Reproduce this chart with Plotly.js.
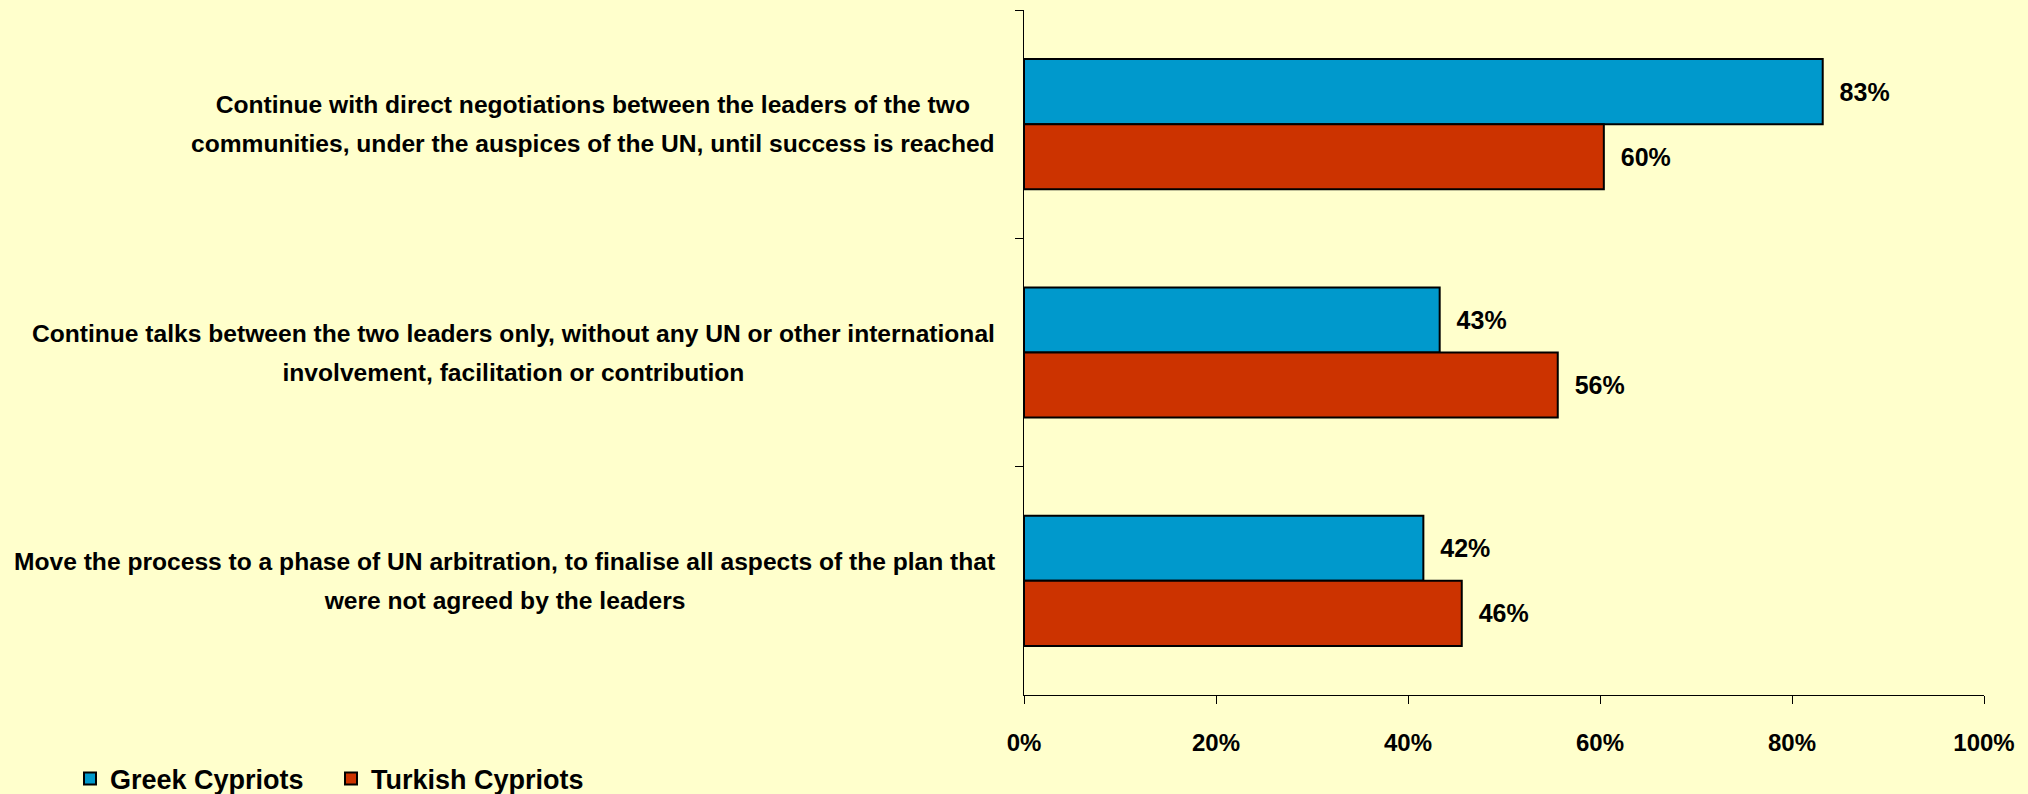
<!DOCTYPE html>
<html>
<head>
<meta charset="utf-8">
<script src="https://cdn.plot.ly/plotly-3.0.1.min.js"></script>
<style>
html,body{margin:0;padding:0;background:#FFFFCC;}
#chart{width:2028px;height:794px;}
</style>
</head>
<body>
<div id="chart"></div>
<script>
// ---- data ----
var categories = [
  "Continue with direct negotiations between the leaders of the two|communities, under the auspices of the UN, until success is reached",
  "Continue talks between the two leaders only, without any UN or other international|involvement, facilitation or contribution",
  "Move the process to a phase of UN arbitration, to finalise all aspects of the plan that|were not agreed by the leaders"
];
var catKeys = ["c1", "c2", "c3"];
var greekCypriots = [0.832, 0.433, 0.416];
var turkishCypriots = [0.604, 0.556, 0.456];
var seriesNames = ["Greek Cypriots", "Turkish Cypriots"];
var xTickVals = [0, 0.2, 0.4, 0.6, 0.8, 1.0];

var FONT = "'Liberation Sans Narrow', 'Liberation Sans', sans-serif";
var LABEL_SIZE = 26;
var MAX_LABEL_W = 985;

function measure(text, size) {
  var c = document.createElement('canvas').getContext('2d');
  c.font = 'bold ' + size + 'px ' + FONT;
  return c.measureText(text).width;
}

// fit the category labels into the space left of the axis
var widest = 0;
categories.forEach(function (cat) {
  cat.split('|').forEach(function (l) { widest = Math.max(widest, measure(l, LABEL_SIZE)); });
});
var catSize = Math.min(LABEL_SIZE, Math.floor(LABEL_SIZE * MAX_LABEL_W / widest * 10) / 10);

var barLine = {color: '#000000', width: 2};
var dataFont = {family: FONT, size: 25, color: '#000', weight: 'bold'};
var traces = [
  {
    type: 'bar', orientation: 'h', name: seriesNames[0],
    y: catKeys, x: greekCypriots,
    marker: {color: '#0099CC', line: barLine},
    texttemplate: '\u00a0\u00a0%{x:.0%}', textposition: 'outside',
    textfont: dataFont, cliponaxis: false, hoverinfo: 'x'
  },
  {
    type: 'bar', orientation: 'h', name: seriesNames[1],
    y: catKeys, x: turkishCypriots,
    marker: {color: '#CC3300', line: barLine},
    texttemplate: '\u00a0\u00a0%{x:.0%}', textposition: 'outside',
    textfont: dataFont, cliponaxis: false, hoverinfo: 'x'
  }
];

// category labels as two-line annotations (line spacing as in the reference)
var annotations = [];
var rightEdgePaper = (998 - 1024) / 960;
categories.forEach(function (cat, i) {
  var lines = cat.split('|');
  var w = Math.max.apply(null, lines.map(function (l) { return measure(l, catSize); })) + 2;
  lines.forEach(function (l, j) {
    annotations.push({
      xref: 'paper', yref: 'y', x: rightEdgePaper, y: catKeys[i],
      xanchor: 'right', yanchor: 'middle', align: 'center',
      width: w, showarrow: false,
      yshift: j === 0 ? 19.5 : -19.5,
      text: '<b>' + l + '</b>',
      font: {family: FONT, size: catSize, color: '#000'}
    });
  });
});

var layout = {
  width: 2028, height: 794,
  paper_bgcolor: '#FFFFCC', plot_bgcolor: '#FFFFCC',
  margin: {l: 1024, r: 44, t: 10, b: 99, pad: 0, autoexpand: false},
  barmode: 'group', bargap: 0.43, bargroupgap: 0,
  font: {family: FONT, color: '#000'},
  xaxis: {
    range: [0, 1], tickvals: xTickVals, tickformat: '.0%',
    ticks: 'outside', ticklen: 8, tickcolor: '#000', tickwidth: 1,
    showline: true, linecolor: '#000', linewidth: 1,
    showgrid: false, zeroline: false, automargin: false,
    tickfont: {family: FONT, size: 24, color: '#000', weight: 'bold'},
    ticklabelstandoff: 18, fixedrange: true
  },
  yaxis: {
    type: 'category', autorange: 'reversed',
    showticklabels: false, ticks: 'outside', tickson: 'boundaries',
    ticklen: 8, tickcolor: '#000', tickwidth: 1,
    showline: true, linecolor: '#000', linewidth: 1,
    showgrid: false, zeroline: false, automargin: false, fixedrange: true
  },
  showlegend: true,
  legend: {
    orientation: 'h', x: (70 - 1024) / 960, xanchor: 'left',
    y: (695 - 779) / 685, yanchor: 'middle',
    bgcolor: 'rgba(0,0,0,0)',
    font: {family: FONT, size: 27, color: '#000', weight: 'bold'},
    entrywidth: 216, entrywidthmode: 'pixels', traceorder: 'normal'
  },
  annotations: annotations
};

Plotly.newPlot('chart', traces, layout, {displayModeBar: false, staticPlot: true});
</script>
</body>
</html>
